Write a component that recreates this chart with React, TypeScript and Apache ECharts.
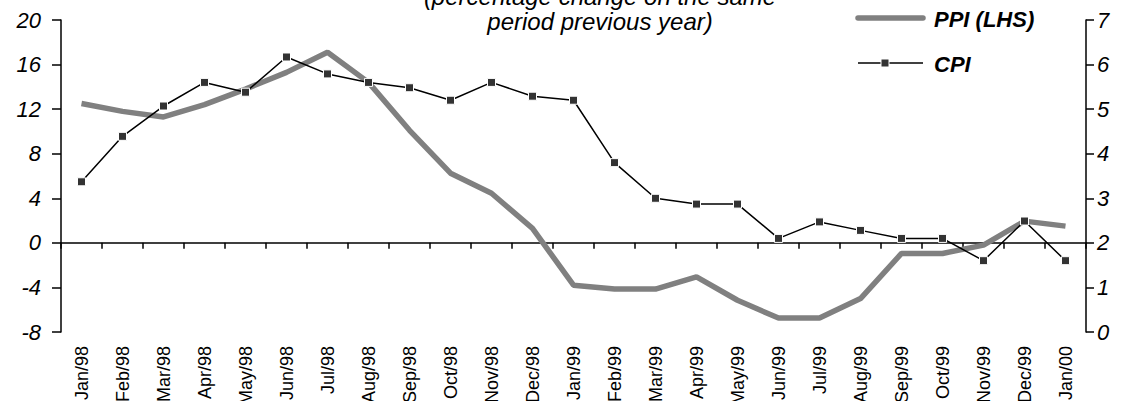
import React, { useEffect, useRef } from "react";
import * as echarts from "echarts";

// Monthly categories
const months = [
  "Jan/98", "Feb/98", "Mar/98", "Apr/98", "May/98", "Jun/98", "Jul/98",
  "Aug/98", "Sep/98", "Oct/98", "Nov/98", "Dec/98", "Jan/99", "Feb/99",
  "Mar/99", "Apr/99", "May/99", "Jun/99", "Jul/99", "Aug/99", "Sep/99",
  "Oct/99", "Nov/99", "Dec/99", "Jan/00",
];

// Producer price index, % change y/y (left axis)
const ppi = [
  12.5, 11.8, 11.3, 12.4, 13.8, 15.3, 17.1, 14.4, 10.1, 6.25, 4.45, 1.3,
  -3.8, -4.15, -4.15, -3.05, -5.15, -6.75, -6.75, -5.0, -0.95, -0.95, -0.2,
  1.95, 1.5,
];

// Consumer price index, % change y/y (right axis)
const cpi = [
  3.37, 4.39, 5.07, 5.6, 5.38, 6.17, 5.79, 5.6, 5.48, 5.2, 5.6, 5.29,
  5.2, 3.8, 3.0, 2.87, 2.87, 2.1, 2.47, 2.28, 2.1, 2.1, 1.6, 2.49, 1.6,
];

// Axis ranges: min, max, step
const leftAxisRange = [-8, 20, 4];
const rightAxisRange = [0, 7, 1];

const titleLines = ["(percentage change on the same", "period previous year)"];
const seriesNames = ["PPI (LHS)", "CPI"];

const FONT = "'Liberation Sans', Arial, Helvetica, sans-serif";

export default function App() {
  const ref = useRef<HTMLDivElement>(null);

  useEffect(() => {
    document.body.style.margin = "0";
    const chart = echarts.init(ref.current!, null, { renderer: "svg" });
    const axisLine = { color: "#000", width: 1.5 };

    chart.setOption({
      animation: false,
      backgroundColor: "#fff",
      textStyle: { fontFamily: FONT },
      grid: {
        left: 61,
        right: 39,
        top: 20,
        bottom: 69,
        containLabel: false,
        outerBoundsMode: "none",
      },
      xAxis: {
        type: "category",
        data: months,
        boundaryGap: true,
        axisLine: { onZero: true, onZeroAxisIndex: 0, lineStyle: axisLine },
        axisTick: { show: true, interval: 0, length: 6, lineStyle: axisLine },
        axisLabel: {
          interval: 0,
          rotate: 90,
          margin: 14,
          fontSize: 18,
          color: "#000",
          fontFamily: FONT,
        },
        splitLine: { show: false },
      },
      yAxis: [
        {
          type: "value",
          position: "left",
          min: leftAxisRange[0],
          max: leftAxisRange[1],
          interval: leftAxisRange[2],
          axisLine: { show: true, lineStyle: axisLine },
          axisTick: { show: true, length: 9, lineStyle: axisLine },
          axisLabel: {
            fontSize: 22,
            fontStyle: "italic",
            color: "#000",
            margin: 20,
            fontFamily: FONT,
          },
          splitLine: { show: false },
        },
        {
          type: "value",
          position: "right",
          min: rightAxisRange[0],
          max: rightAxisRange[1],
          interval: rightAxisRange[2],
          axisLine: { show: true, lineStyle: axisLine },
          axisTick: { show: true, length: 8, lineStyle: axisLine },
          axisLabel: {
            fontSize: 22,
            fontStyle: "italic",
            color: "#000",
            margin: 11,
            fontFamily: FONT,
          },
          splitLine: { show: false },
        },
      ],
      series: [
        {
          name: seriesNames[0],
          type: "line",
          yAxisIndex: 0,
          data: ppi,
          symbol: "none",
          lineStyle: { color: "#808080", width: 5.5 },
          z: 2,
        },
        {
          name: seriesNames[1],
          type: "line",
          yAxisIndex: 1,
          data: cpi,
          symbol: "rect",
          symbolSize: 8,
          lineStyle: { color: "#000", width: 1.5 },
          itemStyle: { color: "#333", borderColor: "#fff", borderWidth: 1 },
          z: 3,
        },
      ],
      graphic: [
        // two-line subtitle, the first line runs off the top edge
        ...titleLines.map((t, i) => ({
          type: "text",
          x: 600,
          y: -4 + i * 25,
          style: {
            text: t,
            align: "center",
            verticalAlign: "middle",
            font: `italic 24px ${FONT}`,
            fill: "#000",
          },
        })),
        // legend: PPI
        {
          type: "line",
          shape: { x1: 858, y1: 18, x2: 923, y2: 18 },
          style: { stroke: "#808080", lineWidth: 5.5, lineCap: "round" },
        },
        {
          type: "text",
          x: 934,
          y: 19,
          style: {
            text: seriesNames[0],
            verticalAlign: "middle",
            font: `italic bold 22px ${FONT}`,
            fill: "#000",
          },
        },
        // legend: CPI
        {
          type: "line",
          shape: { x1: 858, y1: 63, x2: 923, y2: 63 },
          style: { stroke: "#000", lineWidth: 1.5 },
        },
        {
          type: "rect",
          shape: { x: 881, y: 59, width: 8, height: 8 },
          style: { fill: "#333", stroke: "#fff", lineWidth: 1 },
        },
        {
          type: "text",
          x: 934,
          y: 64,
          style: {
            text: seriesNames[1],
            verticalAlign: "middle",
            font: `italic bold 22px ${FONT}`,
            fill: "#000",
          },
        },
      ],
    });

    return () => chart.dispose();
  }, []);

  return <div ref={ref} style={{ width: 1125, height: 401 }} />;
}
